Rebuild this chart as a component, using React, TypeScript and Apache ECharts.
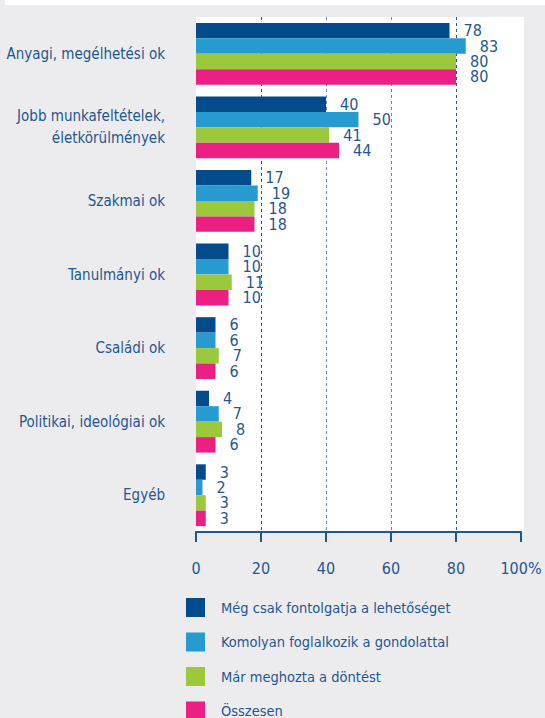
import React, { useEffect, useRef } from "react";
import * as echarts from "echarts";

const categories = [
  "Anyagi, megélhetési ok",
  "Jobb munkafeltételek,\néletkörülmények",
  "Szakmai ok",
  "Tanulmányi ok",
  "Családi ok",
  "Politikai, ideológiai ok",
  "Egyéb",
];

const seriesNames = [
  "Még csak fontolgatja a lehetőséget",
  "Komolyan foglalkozik a gondolattal",
  "Már meghozta a döntést",
  "Összesen",
];

const consideringValues = [78, 40, 17, 10, 6, 4, 3];
const seriousValues = [83, 50, 19, 10, 6, 7, 2];
const decidedValues = [80, 41, 18, 11, 7, 8, 3];
const totalValues = [80, 44, 18, 10, 6, 6, 3];

const xTicks = [0, 20, 40, 60, 80, 100];

const colors = ["#034C8C", "#279BD0", "#9BC93B", "#EC1F83"];
const textColor = "#1F5794";
const font = '"Liberation Sans Narrow", "DejaVu Sans Condensed", "Open Sans", sans-serif';

export default function App() {
  const ref = useRef<HTMLDivElement>(null);
  useEffect(() => {
    document.body.style.margin = "0";
    const chart = echarts.init(ref.current!, null, { renderer: "svg" });
    const allValues = [consideringValues, seriousValues, decidedValues, totalValues];
    chart.setOption({
      animation: false,
      backgroundColor: "#ECECEE",
      textStyle: { fontFamily: font },
      graphic: [
        { type: "rect", z: -10, shape: { x: 5, y: 0, width: 540, height: 5 }, style: { fill: "#ffffff" } },
        { type: "rect", z: -10, shape: { x: 196, y: 17, width: 328, height: 515 }, style: { fill: "#ffffff" } },
      ],
      grid: { left: 196, top: 17, width: 325, height: 515, containLabel: false, outerBoundsMode: "none" },
      legend: {
        orient: "vertical",
        left: 186,
        top: 598,
        height: 160,
        padding: 0,
        itemWidth: 19,
        itemHeight: 19,
        itemGap: 15.5,
        icon: "rect",
        data: seriesNames,
        textStyle: { fontFamily: font, fontSize: 14.5, color: textColor, lineHeight: 19, padding: [0, 0, 0, 11] },
      },
      xAxis: {
        type: "value",
        min: xTicks[0],
        max: xTicks[xTicks.length - 1],
        interval: 20,
        axisLine: { show: true, lineStyle: { color: textColor, width: 2 } },
        axisTick: { show: true, length: 10, lineStyle: { color: textColor, width: 2 } },
        axisLabel: {
          margin: 28,
          fontFamily: font,
          fontSize: 16,
          color: textColor,
          formatter: (v: number) => (v === 100 ? "100%" : String(v)),
        },
        splitLine: {
          show: true,
          lineStyle: {
            type: [3, 3],
            width: 1,
            color: ["rgba(0,0,0,0)", "#2A5C96", "#5D8FC4", "#5D8FC4", "#2A5C96", "rgba(0,0,0,0)"],
          },
        },
      },
      yAxis: {
        type: "category",
        inverse: true,
        data: categories,
        axisLine: { show: false },
        axisTick: { show: false },
        axisLabel: { margin: 31, fontFamily: font, fontSize: 15, color: textColor, lineHeight: 22, align: "right" },
      },
      series: seriesNames.map((name, i) => ({
        name,
        type: "bar",
        data: allValues[i],
        barGap: "0%",
        barCategoryGap: "16%",
        itemStyle: { color: colors[i] },
        label: {
          show: true,
          position: "right",
          distance: 14,
          fontFamily: font,
          fontSize: 16,
          color: textColor,
        },
      })),
    });
    return () => chart.dispose();
  }, []);
  return <div ref={ref} style={{ position: "absolute", left: 0, top: 0, width: 545, height: 718 }} />;
}
